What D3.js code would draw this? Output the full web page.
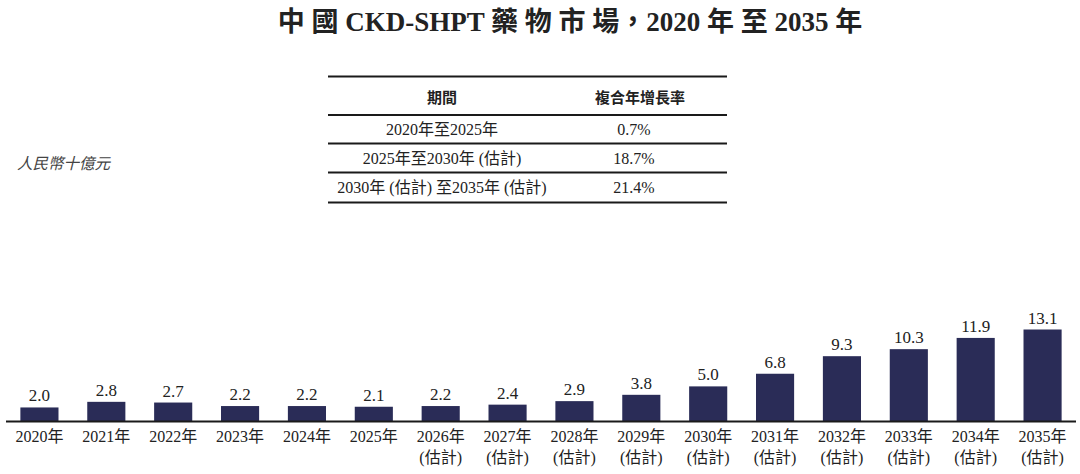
<!DOCTYPE html>
<html>
<head>
<meta charset="utf-8">
<script src="https://d3js.org/d3.v7.min.js"></script>
<style>
  body { margin: 0; background: #fff; }
  svg { display: block; }
  .serif { font-family: "Liberation Serif", "Noto Sans CJK TC", serif; }
</style>
</head>
<body>
<div id="chart"></div>
<script>
// chart data
const years = ["2020", "2021", "2022", "2023", "2024", "2025", "2026", "2027",
               "2028", "2029", "2030", "2031", "2032", "2033", "2034", "2035"];
const values = [2.0, 2.8, 2.7, 2.2, 2.2, 2.1, 2.2, 2.4, 2.9, 3.8, 5.0, 6.8, 9.3, 10.3, 11.9, 13.1];
const estimated = [false, false, false, false, false, false, true, true,
                   true, true, true, true, true, true, true, true];

// CAGR table
const tableHeader = ["期間", "複合年增長率"];
const periods = ["2020年至2025年", "2025年至2030年 (估計)", "2030年 (估計) 至2035年 (估計)"];
const cagr = ["0.7%", "18.7%", "21.4%"];

const W = 1080, H = 474;
const barColor = "#2a2c57";
const textColor = "#222";

const svg = d3.select("#chart").append("svg")
    .attr("width", W).attr("height", H);

// title
svg.append("text")
    .attr("x", 570).attr("y", 31)
    .attr("text-anchor", "middle")
    .attr("font-family", "'Liberation Serif', 'Noto Sans CJK TC', serif")
    .attr("font-weight", "bold")
    .attr("font-size", 27)
    .attr("fill", textColor)
    .text("中 國 CKD-SHPT 藥 物 市 場，2020 年 至 2035 年");

// unit label
svg.append("text")
    .attr("x", 17).attr("y", 169)
    .attr("font-family", "'Noto Sans CJK TC', sans-serif")
    .attr("font-style", "italic")
    .attr("font-size", 15.5)
    .attr("fill", "#444")
    .text("人民幣十億元");

// table
const tbl = svg.append("g").attr("class", "serif");
const tx0 = 328, tx1 = 727;
const colX = [442, 634];
const rowBase = [135, 164, 193];
const lines = [
  {y: 76.5, w: 2.2},
  {y: 115, w: 2.2},
  {y: 143.5, w: 1.8},
  {y: 172.5, w: 1.8},
  {y: 202.5, w: 1.8}
];
tbl.selectAll("line").data(lines).join("line")
    .attr("x1", tx0).attr("x2", tx1)
    .attr("y1", d => d.y).attr("y2", d => d.y)
    .attr("stroke", "#1a1a1a")
    .attr("stroke-width", d => d.w);

tbl.selectAll("text.head").data(tableHeader).join("text")
    .attr("class", "head")
    .attr("x", (d, i) => colX[i] + (i === 1 ? 6 : 0))
    .attr("y", 103)
    .attr("text-anchor", "middle")
    .attr("font-family", "'Noto Sans CJK TC', sans-serif")
    .attr("font-weight", "bold")
    .attr("font-size", 15)
    .attr("fill", textColor)
    .text(d => d);

tbl.selectAll("text.period").data(periods).join("text")
    .attr("class", "period")
    .attr("x", colX[0])
    .attr("y", (d, i) => rowBase[i])
    .attr("text-anchor", "middle")
    .attr("font-size", 16)
    .attr("fill", textColor)
    .text(d => d);

tbl.selectAll("text.cagr").data(cagr).join("text")
    .attr("class", "cagr")
    .attr("x", colX[1])
    .attr("y", (d, i) => rowBase[i])
    .attr("text-anchor", "middle")
    .attr("font-size", 16)
    .attr("fill", textColor)
    .text(d => d);

// bars
const baseY = 421.5;
const x = d3.scaleBand().domain(years).range([6, 1076]).paddingInner(0.43).paddingOuter(0.215);
const y = d3.scaleLinear().domain([0, 13.1]).range([baseY, 329.5]);

const g = svg.append("g").attr("class", "serif");

g.selectAll("rect").data(years).join("rect")
    .attr("x", d => x(d))
    .attr("width", x.bandwidth())
    .attr("y", (d, i) => y(values[i]))
    .attr("height", (d, i) => baseY - y(values[i]))
    .attr("fill", barColor);

g.selectAll("text.val").data(years).join("text")
    .attr("class", "val")
    .attr("x", d => x(d) + x.bandwidth() / 2)
    .attr("y", (d, i) => y(values[i]) - 6)
    .attr("text-anchor", "middle")
    .attr("font-size", 17)
    .attr("fill", textColor)
    .text((d, i) => values[i].toFixed(1));

// x axis
const axis = g.append("g")
    .attr("transform", `translate(0,${baseY})`)
    .call(d3.axisBottom(x).tickSize(0).tickPadding(0).tickFormat(() => ""));
axis.select(".domain").attr("stroke", "#1a1a1a").attr("stroke-width", 2.2)
    .attr("d", "M6,0H1076");

axis.selectAll(".tick").each(function(d, i) {
  const t = d3.select(this).select("text")
      .attr("font-family", "'Liberation Serif', 'Noto Sans CJK TC', serif")
      .attr("font-size", 16)
      .attr("fill", textColor)
      .attr("y", 0).attr("dy", 0);
  t.text(null);
  t.append("tspan").attr("x", 0).attr("y", 20).text(d + "年");
  if (estimated[i]) {
    t.append("tspan").attr("x", 0).attr("y", 41).text("(估計)");
  }
});
</script>
</body>
</html>
